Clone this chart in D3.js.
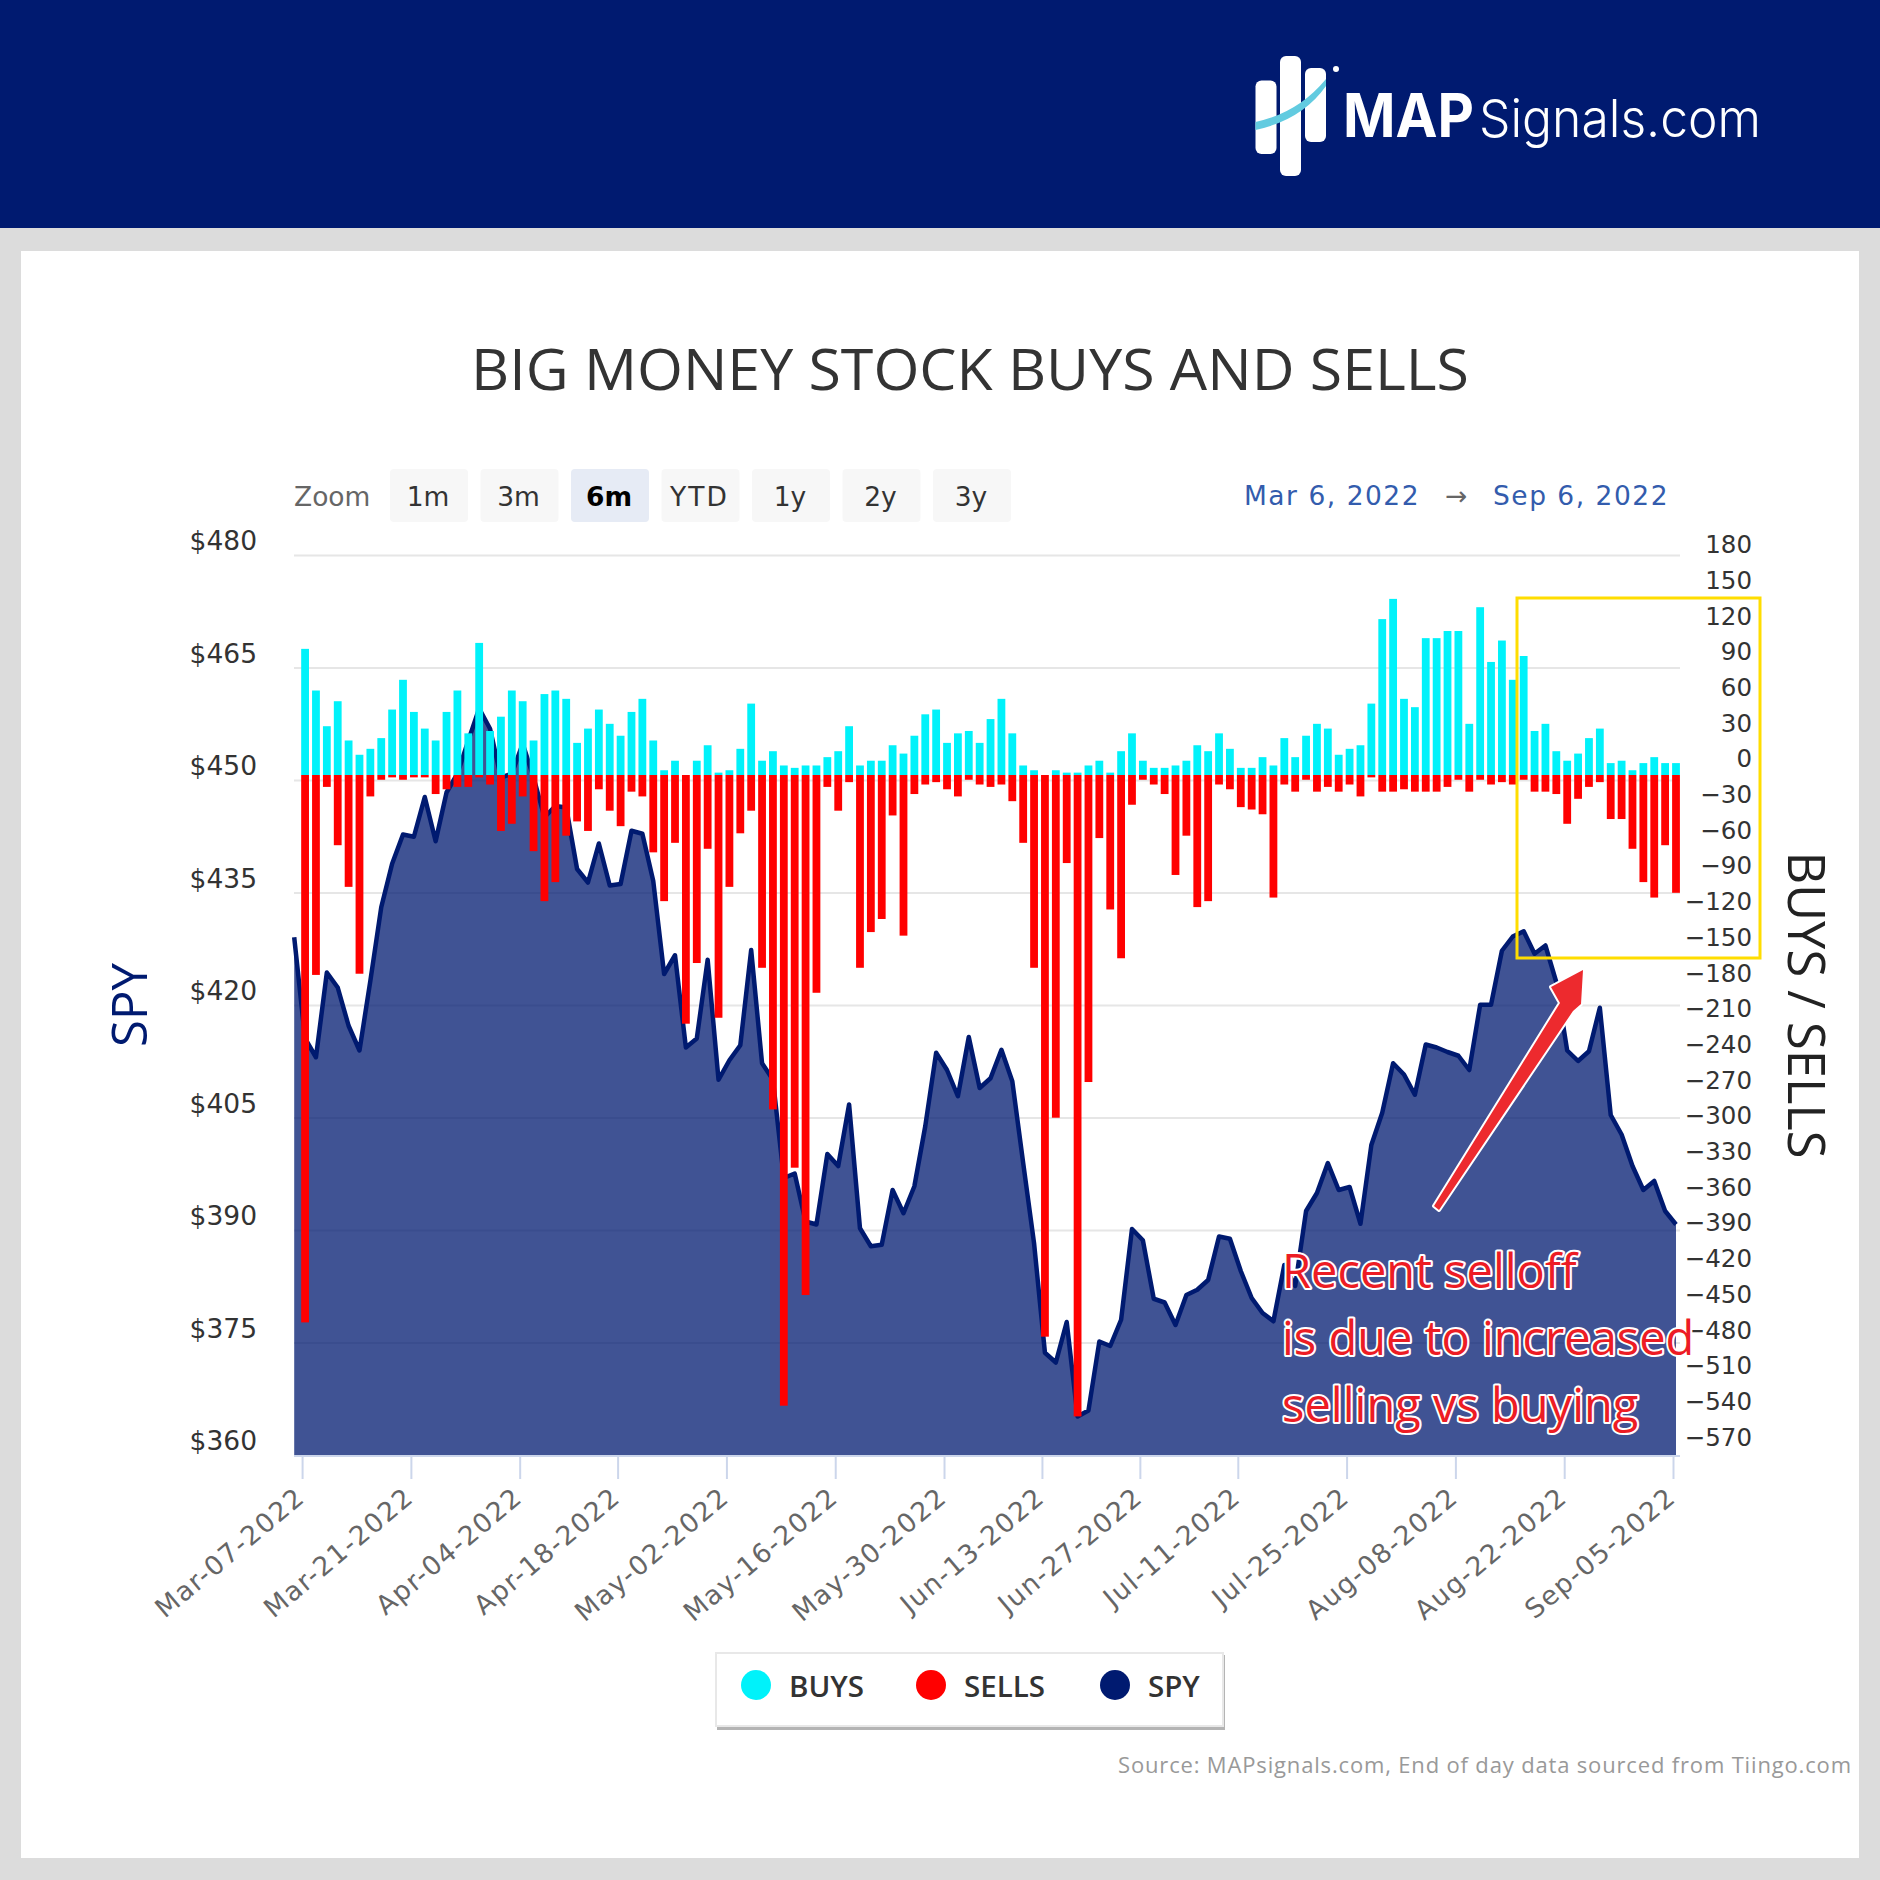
<!DOCTYPE html>
<html>
<head>
<meta charset="utf-8">
<script src="https://cdn.jsdelivr.net/npm/d3@7"></script>
<style>
  html, body { margin: 0; padding: 0; background: #dcdcdc; }
  svg { display: block; }
  text { font-family: "DejaVu Sans", sans-serif; }
</style>
</head>
<body>
<svg id="chart" width="1880" height="1880"></svg>
<script>
// Trading days, first one only carries the SPY line
const dates = [
  "03-04",
  "03-07","03-08","03-09","03-10","03-11","03-14","03-15","03-16","03-17","03-18",
  "03-21","03-22","03-23","03-24","03-25","03-28","03-29","03-30","03-31","04-01",
  "04-04","04-05","04-06","04-07","04-08","04-11","04-12","04-13","04-14",
  "04-18","04-19","04-20","04-21","04-22","04-25","04-26","04-27","04-28","04-29",
  "05-02","05-03","05-04","05-05","05-06","05-09","05-10","05-11","05-12","05-13",
  "05-16","05-17","05-18","05-19","05-20","05-23","05-24","05-25","05-26","05-27",
  "05-31","06-01","06-02","06-03","06-06","06-07","06-08","06-09","06-10",
  "06-13","06-14","06-15","06-16","06-17","06-21","06-22","06-23","06-24",
  "06-27","06-28","06-29","06-30","07-01","07-05","07-06","07-07","07-08",
  "07-11","07-12","07-13","07-14","07-15","07-18","07-19","07-20","07-21","07-22",
  "07-25","07-26","07-27","07-28","07-29","08-01","08-02","08-03","08-04","08-05",
  "08-08","08-09","08-10","08-11","08-12","08-15","08-16","08-17","08-18","08-19",
  "08-22","08-23","08-24","08-25","08-26","08-29","08-30","08-31","09-01","09-02",
  "09-06"
];

const spy = [
  429.1,
  415.6,413.1,424.4,422.4,417.3,414.0,423.3,433.1,438.9,442.8,
  442.5,447.8,441.9,448.4,450.9,455.3,459.6,456.9,450.4,450.9,
  454.9,450.4,445.1,446.6,446.4,438.2,436.4,441.6,436.0,
  436.2,443.3,442.9,436.6,424.2,426.7,414.4,415.6,426.1,410.1,
  412.7,414.7,427.4,412.3,410.1,397.0,397.6,391.2,390.8,400.2,
  398.6,406.8,390.3,387.9,388.1,395.4,392.3,395.9,403.9,413.7,
  411.4,407.9,415.8,409.0,410.3,414.1,409.9,399.0,388.3,
  373.7,372.4,377.8,365.2,366.0,375.2,374.6,378.1,390.2,
  388.7,380.9,380.4,377.4,381.4,382.1,383.4,389.2,388.9,
  384.6,381.0,379.0,377.9,385.4,382.6,392.6,395.0,399.0,395.4,
  395.8,390.9,401.4,405.7,412.3,410.8,408.1,414.8,414.4,413.8,
  413.3,411.4,420.1,420.1,427.3,429.2,429.9,426.9,428.0,423.1,
  414.0,412.6,413.9,419.7,405.4,402.8,398.6,395.4,396.6,392.6,
  390.8
];

const buys = [
  106,71,41,62,29,17,22,31,55,80,
  53,39,29,53,71,35,111,37,49,71,
  62,29,68,71,64,27,39,55,43,
  33,53,64,29,4,12,0,12,25,2,4,
  22,60,12,20,8,6,8,8,15,20,
  41,8,12,12,25,18,33,51,55,27,
  35,37,27,47,64,35,8,4,0,
  4,2,2,8,12,2,20,35,12,
  6,6,8,12,25,20,35,22,6,
  6,15,8,31,15,33,43,39,17,22,
  25,60,131,148,64,57,115,115,121,121,
  43,141,95,113,80,100,37,43,20,12,
  18,31,39,10,12,4,10,15,10,10
];

const sells = [
  460,168,10,59,94,167,18,4,2,4,
  2,2,16,12,10,10,2,8,47,41,
  18,64,106,90,51,39,47,12,30,
  43,14,18,65,106,57,209,158,62,204,94,
  49,30,162,281,530,330,437,183,10,30,
  6,162,132,121,34,135,16,8,6,12,
  18,4,8,10,8,22,57,162,472,
  288,74,539,258,53,113,154,25,4,
  8,16,84,51,111,106,8,12,27,
  29,33,103,8,14,4,14,10,14,8,
  18,2,14,14,12,14,14,14,10,4,
  14,4,8,6,8,4,14,14,16,41,
  20,10,6,37,37,62,90,103,59,99
];

const leftTicks = [360, 375, 390, 405, 420, 435, 450, 465, 480];
const rightTicks = d3.range(-570, 181, 30);
const tickDates = ["03-07","03-21","04-04","04-18","05-02","05-16","05-31","06-13","06-27","07-11","07-25","08-08","08-22","09-06"];
const tickLabels = ["Mar-07-2022","Mar-21-2022","Apr-04-2022","Apr-18-2022","May-02-2022","May-16-2022","May-30-2022","Jun-13-2022","Jun-27-2022","Jul-11-2022","Jul-25-2022","Aug-08-2022","Aug-22-2022","Sep-05-2022"];
const zoomButtons = ["1m", "3m", "6m", "YTD", "1y", "2y", "3y"];
const legendItems = ["BUYS", "SELLS", "SPY"];
const legendColors = ["#00f2fa", "#ff0000", "#001a70"];
const noteLines = ["Recent selloff", "is due to increased", "selling vs buying"];

const navy = "#001a70";
const svg = d3.select("#chart");

// Bandeau et carte blanche
svg.append("rect").attr("width", 1880).attr("height", 228).attr("fill", navy);
svg.append("rect").attr("x", 21).attr("y", 251).attr("width", 1838).attr("height", 1607).attr("fill", "#fff");

// Logo
const logo = svg.append("g");
[[1255.5, 80.5, 21, 73.5], [1280, 56, 21, 120], [1305, 68, 21, 74]].forEach(b => {
  logo.append("rect").attr("x", b[0]).attr("y", b[1]).attr("width", b[2]).attr("height", b[3]).attr("rx", 6).attr("fill", "#fff");
});
logo.append("path")
  .attr("d", "M1255.5 122 Q1298 113 1326 79 L1326 86 Q1302 120 1255.5 130 Z")
  .attr("fill", "#62cbe0");
logo.append("circle").attr("cx", 1336).attr("cy", 69).attr("r", 3).attr("fill", "#fff");
logo.append("text").attr("x", 1343).attr("y", 136.5).attr("textLength", 131).attr("lengthAdjust", "spacingAndGlyphs")
  .style("font-family", "Inter").style("font-weight", 700).style("font-size", "60px").attr("fill", "#fff").text("MAP");
logo.append("text").attr("x", 1479).attr("y", 136.5).attr("textLength", 282).attr("lengthAdjust", "spacingAndGlyphs")
  .style("font-family", "Inter").style("font-weight", 300).style("font-size", "52px").attr("fill", "#fff").text("Signals.com");

// Titre
svg.append("text").attr("x", 970).attr("y", 390).attr("text-anchor", "middle")
  .attr("textLength", 998).attr("lengthAdjust", "spacingAndGlyphs")
  .style("font-family", "Open Sans").style("font-weight", 500).style("font-size", "57px").attr("fill", "#333")
  .text("BIG MONEY STOCK BUYS AND SELLS");

// Boutons de zoom
svg.append("text").attr("x", 294).attr("y", 506).style("font-size", "26.5px").attr("fill", "#666").text("Zoom");
const buttonX = d3.scalePoint().domain(zoomButtons).range([390, 933]);
zoomButtons.forEach(b => {
  const active = b === "6m";
  svg.append("rect").attr("x", buttonX(b)).attr("y", 469).attr("width", 78).attr("height", 53).attr("rx", 4)
    .attr("fill", active ? "#e6ebf5" : "#f7f7f7");
  svg.append("text").attr("x", buttonX(b) + 38).attr("y", 506).attr("text-anchor", "middle")
    .style("font-size", "26.5px").style("font-weight", active ? 700 : 400)
    .style("letter-spacing", b === "YTD" ? "2px" : "0px")
    .attr("fill", active ? "#000" : "#333").text(b);
});

// Plage de dates
[["Mar 6, 2022", 1244, "#335cad"], ["Sep 6, 2022", 1493, "#335cad"]].forEach(d => {
  svg.append("text").attr("x", d[1]).attr("y", 505).style("font-size", "26.5px").style("letter-spacing", "1.5px")
    .attr("fill", d[2]).text(d[0]);
});
svg.append("text").attr("x", 1445).attr("y", 505).style("font-size", "26.5px").attr("fill", "#666").text("→");

// Echelles
const x = d3.scalePoint().domain(dates).range([294.2, 1676]);
const ySpy = d3.scaleLinear().domain([360, 480]).range([1455.5, 555.5]);
const yFlow = d3.scaleLinear().domain([-570, 180]).range([1453.3, 560.8]);

// Grille
svg.append("g").selectAll("line").data(leftTicks.slice(1)).enter().append("line")
  .attr("x1", 294).attr("x2", 1680)
  .attr("y1", d => ySpy(d)).attr("y2", d => ySpy(d))
  .attr("stroke", "#e6e6e6").attr("stroke-width", 2);

// Zone et ligne SPY
const spyPoints = dates.map((d, i) => ({ date: d, value: spy[i] }));
svg.append("path").datum(spyPoints)
  .attr("d", d3.area().x(d => x(d.date)).y0(ySpy(360)).y1(d => ySpy(d.value)))
  .attr("fill", navy).attr("fill-opacity", 0.75);
svg.append("path").datum(spyPoints)
  .attr("d", d3.line().x(d => x(d.date)).y(d => ySpy(d.value)))
  .attr("fill", "none").attr("stroke", navy).attr("stroke-width", 4.5).attr("stroke-linejoin", "round");

// Barres achats / ventes
const barDates = dates.slice(1);
const barWidth = 7.8;
svg.append("g").selectAll("rect").data(buys).enter().append("rect")
  .attr("x", (d, i) => x(barDates[i]) - barWidth / 2)
  .attr("y", d => yFlow(d))
  .attr("width", barWidth)
  .attr("height", d => yFlow(0) - yFlow(d))
  .attr("fill", "#00f2fa");
svg.append("g").selectAll("rect").data(sells).enter().append("rect")
  .attr("x", (d, i) => x(barDates[i]) - barWidth / 2)
  .attr("y", yFlow(0))
  .attr("width", barWidth)
  .attr("height", d => yFlow(-d) - yFlow(0))
  .attr("fill", "#ff0000");

// Axes
const xAxis = svg.append("g").attr("transform", "translate(-3,1456)")
  .call(d3.axisBottom(x).tickValues(tickDates).tickSize(23).tickSizeOuter(0).tickFormat((d, i) => tickLabels[i]));
xAxis.select(".domain").remove();
xAxis.selectAll("line").attr("stroke", "#ccd6eb").attr("stroke-width", 2);
xAxis.selectAll("text")
  .attr("text-anchor", "end").attr("x", 0).attr("y", 0).attr("dx", 0).attr("dy", 0)
  .attr("transform", "translate(4,44) rotate(-40)")
  .style("font-size", "26.5px").style("letter-spacing", "1.5px").attr("fill", "#666");
svg.append("line").attr("x1", 294).attr("x2", 1680).attr("y1", 1456).attr("y2", 1456).attr("stroke", "#ccd6eb").attr("stroke-width", 2);

const leftAxis = svg.append("g").attr("transform", "translate(257,-14)")
  .call(d3.axisLeft(ySpy).tickValues(leftTicks).tickSize(0).tickPadding(0).tickFormat(d => "$" + d));
leftAxis.select(".domain").remove();
leftAxis.selectAll("text").style("font-size", "26.5px").attr("fill", "#333");

const rightAxis = svg.append("g").attr("transform", "translate(1752,-16)")
  .call(d3.axisRight(yFlow).tickValues(rightTicks).tickSize(0).tickPadding(0).tickFormat(d => d < 0 ? "\u2212" + (-d) : d));
rightAxis.select(".domain").remove();
rightAxis.selectAll("text").attr("text-anchor", "end").style("font-size", "24.5px").attr("fill", "#333");

// Titres des axes
svg.append("text").attr("transform", "translate(147,1005) rotate(-90)").attr("text-anchor", "middle")
  .style("font-family", "Open Sans").style("font-weight", 500).style("font-size", "49px").attr("fill", navy).text("SPY");
svg.append("text").attr("transform", "translate(1788,1005) rotate(90)").attr("text-anchor", "middle")
  .attr("textLength", 307).attr("lengthAdjust", "spacingAndGlyphs")
  .style("font-family", "Open Sans").style("font-weight", 500).style("font-size", "52px").attr("fill", "#222").text("BUYS / SELLS");

// Legende
svg.append("rect").attr("x", 717).attr("y", 1655).attr("width", 508).attr("height", 75).attr("fill", "#b4b4b4");
svg.append("rect").attr("x", 716).attr("y", 1653).attr("width", 507).attr("height", 73).attr("fill", "#fff").attr("stroke", "#e8e8e8").attr("stroke-width", 2);
const legendX = [756, 931, 1115];
legendItems.forEach((name, i) => {
  svg.append("circle").attr("cx", legendX[i]).attr("cy", 1685).attr("r", 15).attr("fill", legendColors[i]);
  svg.append("text").attr("x", legendX[i] + 33).attr("y", 1697).style("font-family", "Open Sans")
    .style("font-weight", 600).style("font-size", "29.5px").attr("fill", "#333").text(name);
});

// Source
svg.append("text").attr("x", 1851).attr("y", 1773).attr("text-anchor", "end")
  .attr("textLength", 733).attr("lengthAdjust", "spacing")
  .style("font-family", "Open Sans").style("font-size", "22px").attr("fill", "#999")
  .text("Source: MAPsignals.com, End of day data sourced from Tiingo.com");

// Annotations
svg.append("rect").attr("x", 1517).attr("y", 598).attr("width", 243).attr("height", 360)
  .attr("fill", "none").attr("stroke", "#ffdd00").attr("stroke-width", 3);
svg.append("path")
  .attr("d", "M1434 1206 L1560 1003 L1551 987 L1583 970 L1581 1004 L1573 1011 L1439 1210 Z")
  .attr("fill", "#ed2a2e").attr("stroke", "#fff").attr("stroke-width", 4).attr("stroke-linejoin", "round").style("paint-order", "stroke");
noteLines.forEach((t, i) => {
  svg.append("text").attr("x", 1282).attr("y", 1288 + i * 67)
    .style("font-family", "Open Sans").style("font-size", "47px")
    .attr("fill", "#ed1c24").attr("stroke", "#fff").attr("stroke-width", 4).attr("stroke-linejoin", "round").style("paint-order", "stroke")
    .text(t);
});
</script>
</body>
</html>
